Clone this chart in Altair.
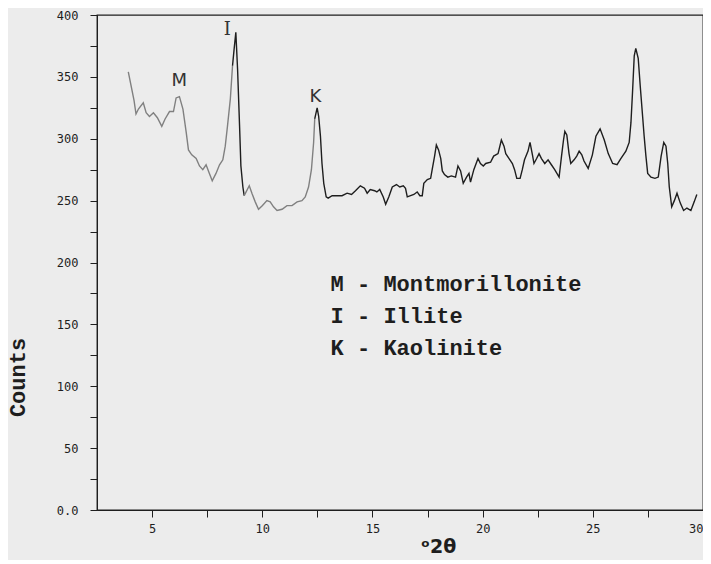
import altair as alt
import pandas as pd

# ---- data ----
two_theta = [3.92, 4.18, 4.27, 4.38, 4.60, 4.73, 4.88, 5.06, 5.24, 5.44, 5.59, 5.79, 5.97, 6.09, 6.24,
             6.40, 6.55, 6.65, 6.80, 7.00, 7.15, 7.30, 7.45, 7.60, 7.73, 7.90, 8.06, 8.21, 8.32, 8.42,
             8.55, 8.65, 8.72, 8.80, 8.88, 8.97, 9.03, 9.12, 9.18, 9.41, 9.53, 9.68, 9.83, 10.01, 10.21,
             10.36, 10.51, 10.67, 10.90, 11.12, 11.35, 11.58, 11.80, 11.95, 12.10, 12.23, 12.33, 12.38,
             12.49, 12.56, 12.64, 12.71, 12.79, 12.90, 12.99, 13.17, 13.40, 13.62, 13.85, 14.05, 14.23,
             14.45, 14.64, 14.76, 14.90, 15.10, 15.20, 15.33, 15.49, 15.60, 15.74, 15.90, 16.09, 16.24,
             16.40, 16.50, 16.58, 16.73, 16.88, 17.03, 17.15, 17.26, 17.33, 17.49, 17.64, 17.71, 17.82,
             17.90, 18.00, 18.10, 18.17, 18.27, 18.42, 18.58, 18.77, 18.88, 19.00, 19.12, 19.27, 19.38,
             19.45, 19.60, 19.79, 19.90, 20.03, 20.14, 20.36, 20.50, 20.70, 20.85, 20.97, 21.05, 21.20,
             21.35, 21.45, 21.55, 21.70, 21.80, 21.90, 22.06, 22.15, 22.26, 22.33, 22.45, 22.56, 22.67,
             22.82, 22.97, 23.12, 23.27, 23.47, 23.58, 23.67, 23.73, 23.82, 23.92, 24.00, 24.15, 24.27,
             24.38, 24.50, 24.60, 24.79, 24.98, 25.14, 25.33, 25.52, 25.70, 25.90, 26.10, 26.27, 26.50,
             26.65, 26.73, 26.80, 26.88, 26.95, 27.06, 27.15, 27.26, 27.33, 27.41, 27.49, 27.64, 27.82,
             27.97, 28.10, 28.22, 28.32, 28.40, 28.47, 28.58, 28.70, 28.82, 28.97, 29.12, 29.27, 29.45,
             29.60, 29.72]
counts = [354, 331, 320, 324, 329, 321, 318, 321, 317, 310, 316, 322, 322, 333, 334,
          324, 305, 291, 287, 284, 278, 275, 279, 272, 266, 272, 279, 283, 294, 310,
          332, 359, 372, 386, 356, 310, 278, 261, 254, 262, 256, 249, 243, 246, 250,
          249, 245, 242, 243, 246, 246, 249, 250, 253, 261, 275, 297, 316,
          325, 318, 302, 280, 264, 253, 252, 254, 254, 254, 256, 255, 258,
          262, 260, 256, 259, 258, 257, 259, 253, 247, 253, 261, 263, 261,
          262, 260, 253, 254, 255, 257, 254, 254, 264, 267, 268, 275, 286,
          295, 291, 284, 274, 271, 269, 270, 269, 278, 274, 264, 269, 272,
          265, 275, 284, 280, 278, 280, 281, 286, 288, 299, 294, 288, 284,
          280, 275, 268, 268, 275, 283, 290, 297, 287, 280, 284, 288, 284,
          280, 283, 279, 275, 269, 286, 299, 306, 303, 288, 280, 283, 286,
          290, 287, 282, 276, 287, 302, 308, 299, 288, 280, 279, 284, 290,
          297, 313, 337, 367, 373, 365, 343, 318, 302, 286, 272, 269, 268,
          269, 286, 297, 294, 280, 261, 245, 250, 256, 248, 242, 244, 242,
          249, 255]
# stretches where the printed trace is faded (grey) in the scan
faded_ranges = [(4.18, 8.65), (9.41, 12.38)]

peak_labels = ["M", "I", "K"]
peak_x = [6.23, 8.41, 12.41]
peak_y = [347, 388, 334]

legend_lines = ["M - Montmorillonite", "I - Illite", "K - Kaolinite"]
legend_x = [13.1, 13.1, 13.1]
legend_y = [183, 157, 131]

x_ticks = [5, 7.5, 10, 12.5, 15, 17.5, 20, 22.5, 25, 27.5, 30]
y_ticks = [0, 25, 50, 75, 100, 125, 150, 175, 200, 225, 250, 275, 300, 325, 350, 375, 400]

# ---- build table ----
rows = []
run = 0
prev = None
for i, (xv, yv) in enumerate(zip(two_theta, counts)):
    tone = "faded" if any(a <= xv <= b for a, b in faded_ranges) else "dark"
    if prev is not None and tone != prev:
        run += 1
        rows.append(dict(x=two_theta[i - 1], y=counts[i - 1], tone=tone, run=run, order=i - 0.5))
    rows.append(dict(x=xv, y=yv, tone=tone, run=run, order=i))
    prev = tone
df = pd.DataFrame(rows)

peaks = pd.DataFrame(dict(x=peak_x, y=peak_y, label=peak_labels))
legend = pd.DataFrame(dict(x=legend_x, y=legend_y, label=legend_lines))

INK = "#1e1e1e"
tick_font = "DejaVu Sans Mono"

x_enc = alt.X("x:Q", scale=alt.Scale(domain=[2.5, 30], nice=False, zero=False), axis=alt.Axis(
    values=x_ticks, labelExpr="datum.value % 5 != 0 ? '' : datum.label",
    title="ᵒ2θ", titleX=341, titleY=46, titleAlign="center", titleBaseline="bottom",
    titleFont="DejaVu Sans", titleFontSize=19, titleFontWeight="bold", titleColor=INK,
    tickSize=7, labelPadding=6, labelFont=tick_font, labelFontSize=12, labelColor=INK,
    grid=False, domainColor=INK, tickColor=INK))
y_enc = alt.Y("y:Q", scale=alt.Scale(domain=[0, 400], nice=False), axis=alt.Axis(
    values=y_ticks,
    labelExpr="datum.value % 50 != 0 ? '' : (datum.value == 0 ? '0.0' : datum.label)",
    title="Counts", titleX=-80, titleY=362, titleAngle=-90, titleAlign="center",
    titleBaseline="middle", titleFont="Liberation Mono", titleFontSize=22,
    titleFontWeight="bold", titleColor=INK,
    tickSize=7, labelPadding=12, labelFont=tick_font, labelFontSize=12, labelColor=INK,
    grid=False, domainColor=INK, tickColor=INK))

line = alt.Chart(df).mark_line(strokeWidth=1.4).encode(
    x=x_enc, y=y_enc,
    color=alt.Color("tone:N", scale=alt.Scale(domain=["dark", "faded"], range=[INK, "#808080"]), legend=None),
    detail="run:N",
    order="order:Q",
)

peak_text_mk = alt.Chart(peaks).transform_filter("datum.label != 'I'").mark_text(
    font="DejaVu Sans", fontSize=18, color="#333333", align="center", baseline="middle"
).encode(x=x_enc, y=y_enc, text="label:N")

peak_text_i = alt.Chart(peaks).transform_filter("datum.label == 'I'").mark_text(
    font="DejaVu Serif", fontSize=18, color="#333333", align="center", baseline="middle"
).encode(x=x_enc, y=y_enc, text="label:N")

legend_text = alt.Chart(legend).mark_text(
    font="Liberation Mono", fontSize=22, fontWeight="bold", color=INK, align="left", baseline="middle"
).encode(x=x_enc, y=y_enc, text="label:N")

chart = alt.layer(line, peak_text_mk, peak_text_i, legend_text).properties(
    width=606, height=495,
    autosize=alt.AutoSizeParams(type="none"),
    padding={"left": 89, "top": 7, "right": 0, "bottom": 50},
    background="#ececec",
).configure_view(stroke=INK, strokeWidth=1.3)

chart.save("out.html", embed_options={"renderer": "svg", "actions": False})
